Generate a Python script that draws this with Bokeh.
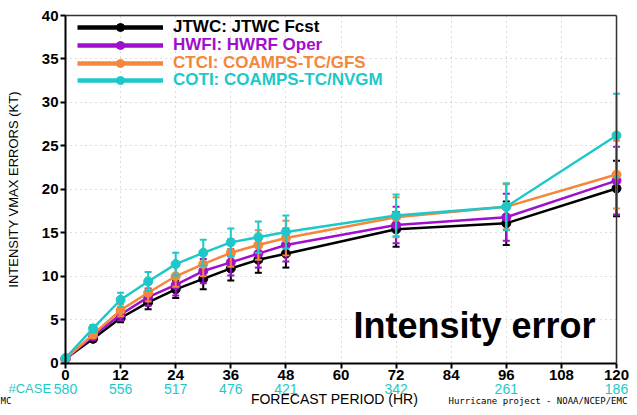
from bokeh.plotting import figure
from bokeh.models import (Range1d, FixedTicker, LinearAxis, Legend, LegendItem, Label,
                          LabelSet, ColumnDataSource, BoxAnnotation)
from bokeh.core.properties import value
from bokeh.embed import file_html
from bokeh.resources import INLINE

# ---------------- data ----------------
hours = [0, 6, 12, 18, 24, 30, 36, 42, 48, 72, 96, 120]

jtwc = [0.5, 2.8, 5.2, 7.0, 8.5, 9.7, 10.9, 11.9, 12.6, 15.4, 16.1, 20.1]
hwfi = [0.5, 3.1, 5.6, 7.6, 9.0, 10.6, 11.6, 12.6, 13.6, 15.9, 16.8, 21.0]
ctci = [0.5, 3.3, 6.1, 8.1, 10.0, 11.4, 12.7, 13.6, 14.4, 16.8, 18.0, 21.7]
coti = [0.6, 4.0, 7.3, 9.4, 11.4, 12.7, 13.9, 14.5, 15.1, 17.0, 18.0, 26.2]

jtwc_err = [0.1, 0.3, 0.5, 0.8, 1.0, 1.2, 1.4, 1.5, 1.6, 2.0, 2.5, 3.2]
hwfi_err = [0.1, 0.4, 0.7, 1.0, 1.2, 1.4, 1.5, 1.6, 1.9, 2.1, 2.7, 3.9]
ctci_err = [0.1, 0.4, 0.7, 1.0, 1.2, 1.4, 1.6, 1.7, 2.0, 2.3, 2.6, 3.9]
coti_err = [0.1, 0.4, 0.8, 1.1, 1.3, 1.5, 1.6, 1.8, 1.9, 2.4, 2.7, 4.8]

series_names = ["JTWC: JTWC Fcst", "HWFI: HWRF Oper",
                "CTCI: COAMPS-TC/GFS", "COTI: COAMPS-TC/NVGM"]
series_colors = ["#000000", "#a010cc", "#f5873a", "#1ec8c8"]

case_hours = [0, 12, 24, 36, 48, 72, 96, 120]
cases = [580, 556, 517, 476, 421, 342, 261, 186]

hour_ticks = [0, 12, 24, 36, 48, 60, 72, 84, 96, 108, 120]
err_ticks = [0, 5, 10, 15, 20, 25, 30, 35, 40]

FONT = "Liberation Sans"

# ---------------- layout (pixels) ----------------
W, H = 629, 407
PX_L, PX_R, PX_T, PX_B = 65, 616, 15, 362.7     # plot area edges
X0, X1, Y0, Y1 = 0, 120, 0, 40                   # plot area data limits
sx = (PX_R - PX_L) / (X1 - X0)
sy = (PX_B - PX_T) / (Y1 - Y0)


def up(py):
    """screen y measured from the bottom of the canvas"""
    return H - py


p = figure(width=W, height=H,
           x_range=Range1d(X0 - PX_L / sx, X1 + (W - PX_R) / sx),
           y_range=Range1d(Y0 - (H - PX_B) / sy, Y1 + PX_T / sy),
           x_axis_location=None, y_axis_location=None,
           output_backend="svg", toolbar_location=None,
           min_border=0, min_border_left=0, min_border_right=0,
           min_border_top=0, min_border_bottom=0)
p.background_fill_color = "white"
p.border_fill_color = "white"
p.outline_line_color = None

# grid (dotted), masked outside the plot area
p.xgrid.ticker = FixedTicker(ticks=hour_ticks)
p.ygrid.ticker = FixedTicker(ticks=err_ticks)
for g in (p.xgrid, p.ygrid):
    g.grid_line_color = "#bbbbbb"
    g.grid_line_dash = "1 4"
    g.grid_line_width = 1
for kw in (dict(right=X0), dict(left=X1), dict(top=Y0), dict(bottom=Y1)):
    p.add_layout(BoxAnnotation(fill_color="white", fill_alpha=1, line_color=None,
                               level="underlay", **kw))

# axes fixed to the plot-area edges
xax = LinearAxis(fixed_location=Y0, bounds=(X0, X1), ticker=FixedTicker(ticks=hour_ticks))
yax = LinearAxis(fixed_location=X0, bounds=(Y0, Y1), ticker=FixedTicker(ticks=err_ticks))
for ax in (xax, yax):
    ax.axis_line_width = 2
    ax.axis_line_color = "black"
    ax.major_tick_line_width = 2
    ax.major_tick_out = 5
    ax.major_tick_in = 0
    ax.minor_tick_out = 0
    ax.minor_tick_in = 0
    ax.major_label_text_font = FONT
    ax.major_label_text_font_style = "bold"
    ax.major_label_text_font_size = "15px"
    ax.major_label_text_color = "black"
    ax.major_label_standoff = 2
yax.axis_label = "INTENSITY VMAX ERRORS (KT)"
yax.axis_label_text_font = FONT
yax.axis_label_text_font_style = "normal"
yax.axis_label_text_font_size = "13px"
yax.axis_label_text_color = "black"
yax.axis_label_standoff = 18
p.add_layout(xax, "below")
p.add_layout(yax, "left")

# top / right frame lines
tax = LinearAxis(fixed_location=Y1, bounds=(X0, X1), ticker=FixedTicker(ticks=[]))
rax = LinearAxis(fixed_location=X1, bounds=(Y0, Y1), ticker=FixedTicker(ticks=[]))
for ax in (tax, rax):
    ax.axis_line_color = "#333333"
    ax.axis_line_width = 1.5
    ax.major_tick_line_color = None
    ax.minor_tick_line_color = None
    ax.major_label_text_alpha = 0
p.add_layout(tax, "above")
p.add_layout(rax, "right")

# ---------------- series ----------------
all_vals = [jtwc, hwfi, ctci, coti]
all_errs = [jtwc_err, hwfi_err, ctci_err, coti_err]
legend_renderers = []
for vals, errs, col in zip(all_vals, all_errs, series_colors):
    lo = [v - e for v, e in zip(vals, errs)]
    hi = [v + e for v, e in zip(vals, errs)]
    p.segment(x0=hours, y0=lo, x1=hours, y1=hi, line_color=col, line_width=2)
    p.scatter(x=hours, y=lo, marker="dash", size=7, line_color=col, line_width=2)
    p.scatter(x=hours, y=hi, marker="dash", size=7, line_color=col, line_width=2)
    p.line(x=hours, y=vals, line_color=col, line_width=2.5)
    sr = p.scatter(x=hours, y=vals, size=9, color=col)
    # single-point line: invisible on the plot, used only for the thick legend swatch
    lr = p.line(x=hours[:1], y=vals[:1], line_color=col, line_width=4.5)
    legend_renderers.append((lr, sr))

# legends (one per series so each label keeps its own colour)
for i, (name, col, (lr, sr)) in enumerate(zip(series_names, series_colors, legend_renderers)):
    leg = Legend(items=[LegendItem(label=name, renderers=[lr, sr])],
                 location=(77, up(27.3 + 17.6 * i) - 10),
                 glyph_width=86, glyph_height=20, label_height=20, label_standoff=10,
                 padding=0, margin=0, spacing=0,
                 border_line_color=None, background_fill_alpha=0,
                 label_text_font=FONT, label_text_font_style="bold",
                 label_text_font_size="17px", label_text_color=col)
    p.add_layout(leg)

# case counts under the hour axis
case_src = ColumnDataSource(dict(h=case_hours, n=[str(c) for c in cases]))
p.add_layout(LabelSet(source=case_src, x="h", y=up(388), y_units="screen", text="n",
                      text_font=value(FONT), text_font_size=value("14px"),
                      text_color=series_colors[3],
                      text_align="center", text_baseline="middle"))

# ---------------- text annotations ----------------
p.add_layout(Label(x=353, y=up(325), x_units="screen", y_units="screen", text="Intensity error",
                   text_font=FONT, text_font_style="bold", text_font_size="36px",
                   text_color="black", text_baseline="middle", text_align="left"))
p.add_layout(Label(x=8, y=up(388), x_units="screen", y_units="screen", text="#CASE",
                   text_font=FONT, text_font_size="13px", text_color=series_colors[3],
                   text_baseline="middle", text_align="left"))
p.add_layout(Label(x=334, y=up(398), x_units="screen", y_units="screen",
                   text="FORECAST PERIOD (HR)", text_font=FONT, text_font_size="14px",
                   text_color="black", text_baseline="middle", text_align="center"))
p.add_layout(Label(x=448, y=up(400), x_units="screen", y_units="screen",
                   text="Hurricane project - NOAA/NCEP/EMC", text_font="DejaVu Sans Mono",
                   text_font_size="9px", text_color="black", text_baseline="middle",
                   text_align="left"))
p.add_layout(Label(x=0, y=up(400), x_units="screen", y_units="screen",
                   text="MC", text_font="DejaVu Sans Mono",
                   text_font_size="9px", text_color="black", text_baseline="middle",
                   text_align="left"))

open("out.html", "w").write(file_html(p, INLINE))
